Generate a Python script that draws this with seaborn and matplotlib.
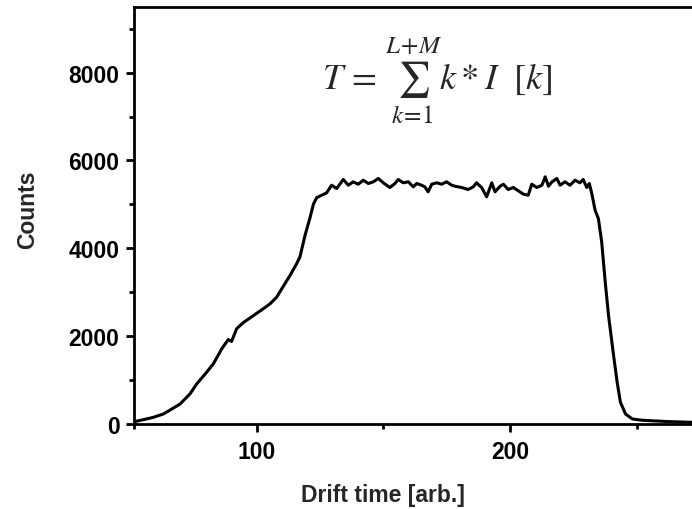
import matplotlib
matplotlib.use("Agg")
import matplotlib.pyplot as plt
import seaborn as sns
import pandas as pd

drift_time = [52.4, 55.5, 59.2, 63.2, 66.5, 69.8, 73.7, 76.3, 79.7, 82.9, 86.2, 88.8, 90.1,
              92.1, 94.7, 98.7, 102.6, 105.3, 107.9, 109.9, 113.2, 115.8, 117.1, 119.1,
              121.1, 122.4, 123.7, 125.7, 127.6, 129.6, 131.6, 134.2, 136.2, 138.1, 140.1,
              142.1, 144.1, 146.1, 148.0, 150.0, 152.6, 154.6, 155.9, 157.9, 159.9, 161.8,
              163.2, 165.1, 166.4, 167.7, 169.1, 171.1, 173.0, 175.0, 177.0, 178.3, 180.9,
              183.5, 185.5, 186.8, 188.8, 190.8, 192.8, 194.1, 196.1, 197.4, 199.3, 201.3,
              203.3, 205.3, 207.2, 208.6, 210.6, 212.6, 213.9, 215.2, 216.6, 218.5, 219.8,
              221.7, 223.7, 225.7, 227.6, 228.9, 230.3, 231.3, 232.3, 233.6, 234.9, 236.2,
              237.6, 238.9, 240.9, 242.3, 243.6, 245.6, 248.3, 252.0, 255.3, 262.0, 271.8]
counts = [50, 90, 140, 217, 330, 445, 675, 900, 1130, 1360, 1700, 1915, 1870,
          2160, 2300, 2460, 2617, 2730, 2880, 3070, 3380, 3645, 3800, 4290,
          4700, 5000, 5150, 5207, 5260, 5435, 5360, 5566, 5435, 5513, 5458,
          5550, 5474, 5513, 5589, 5490, 5383, 5474, 5566, 5490, 5513, 5398,
          5474, 5435, 5398, 5284, 5458, 5490, 5458, 5513, 5435, 5412, 5383,
          5337, 5398, 5490, 5383, 5170, 5490, 5284, 5412, 5458, 5337, 5383,
          5307, 5230, 5207, 5458, 5383, 5435, 5627, 5412, 5513, 5589, 5435,
          5513, 5435, 5550, 5490, 5566, 5383, 5474, 5245, 4864, 4674, 4141,
          3227, 2464, 1550, 942, 485, 217, 103, 75, 64, 45, 27]

x_major = [100, 200]
x_minor = [51.4, 150, 250]
y_major = [0, 2000, 4000, 6000, 8000]
y_minor = [1000, 3000, 5000, 7000, 9000]
x_label = "Drift time [arb.]"
y_label = "Counts"
formula = r"$T\,=\,\sum_{k\!=\!1}^{L\!+\!M}k*I\ \ [k]$"

df = pd.DataFrame({"Drift time": drift_time, "Counts": counts})

sns.set_style("ticks")
plt.rcParams["font.family"] = ["Liberation Sans", "DejaVu Sans"]
plt.rcParams["mathtext.fontset"] = "stix"

fig = plt.figure(figsize=(6.92, 5.10), dpi=100)
ax = fig.add_axes([133.5 / 692, 1 - 424.5 / 510, 1 - 133.5 / 692, (424.5 - 8) / 510])

sns.lineplot(data=df, x="Drift time", y="Counts", ax=ax, color="black",
             linewidth=2.2, sort=False, estimator=None)

ax.set_xlim(51.4, 271.85)
ax.set_ylim(0, 9500)
ax.set_xticks(x_major)
ax.set_xticks(x_minor, minor=True)
ax.set_yticks(y_major)
ax.set_yticks(y_minor, minor=True)

for s in ["left", "bottom", "top"]:
    ax.spines[s].set_linewidth(2.0)
    ax.spines[s].set_color("black")
ax.spines["right"].set_visible(False)

ax.tick_params(which="major", direction="out", length=6, width=2.0, colors="black",
               labelsize=16.5)
ax.tick_params(which="minor", direction="out", length=3.5, width=2.0, colors="black")
ax.tick_params(axis="x", which="major", pad=6)
ax.tick_params(axis="y", which="major", pad=4)
for lab in ax.get_xticklabels() + ax.get_yticklabels():
    lab.set_fontweight("bold")

ax.set_xlabel(x_label, fontsize=16.5, fontweight="bold")
ax.set_ylabel(y_label, fontsize=16.5, fontweight="bold")
ax_w = 692 - 133.5
ax_h = 424.5 - 8
ax.xaxis.set_label_coords((383 - 133.5) / ax_w, -(502 - 424.5) / ax_h)
ax.xaxis.label.set_va("baseline")
ax.yaxis.set_label_coords(-(133.5 - 28) / ax_w, (424.5 - 210) / ax_h)
ax.yaxis.label.set_va("center")

fig.text(437 / 692, 1 - 90 / 510, formula, fontsize=26, ha="center", va="baseline")

fig.savefig("out.png", dpi=100)
